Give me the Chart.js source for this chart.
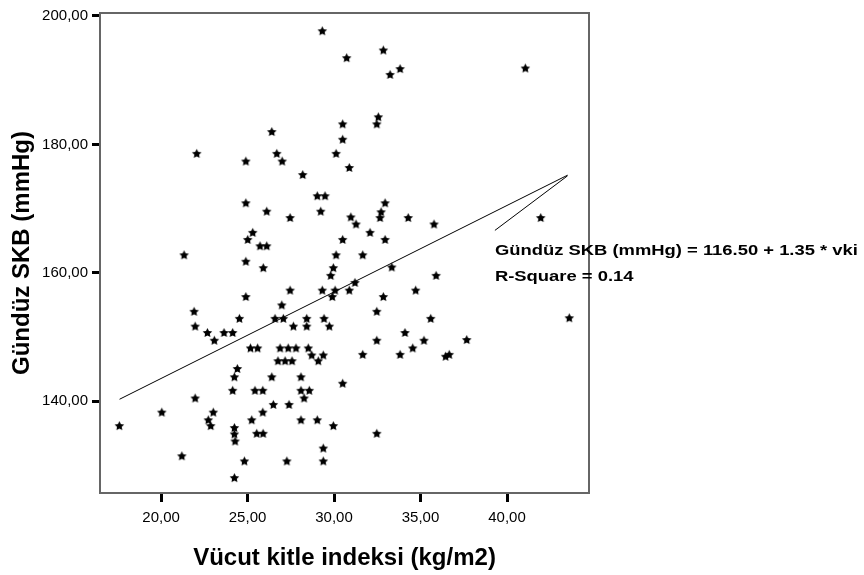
<!DOCTYPE html>
<html lang="tr">
<head>
  <meta charset="UTF-8">
  <title>Vücut kitle indeksi - Gündüz SKB</title>
  <script src="https://cdn.jsdelivr.net/npm/chart.js"></script>
  <style>
    html, body { margin: 0; padding: 0; background: #fff; }
    #wrap { width: 864px; height: 575px; }
  </style>
</head>
<body>
  <div id="wrap"><canvas id="myChart" width="864" height="575"></canvas></div>

  <script>
    // values
    var bmi = [29.32, 30.73, 32.85, 33.24, 33.82, 41.06, 26.40, 22.06, 24.90, 26.69,
               27.00, 28.19, 32.56, 32.47, 30.50, 30.50, 30.12, 30.88, 24.90, 26.11,
               27.46, 29.03, 29.48, 29.23, 32.95, 32.72, 32.66, 30.97, 31.27, 34.29,
               35.78, 41.95, 25.30, 25.01, 25.72, 26.11, 32.08, 30.50, 32.95, 21.33,
               30.12, 31.66, 24.90, 25.91, 29.96, 29.81, 33.34, 35.90, 27.46, 24.90,
               26.98, 31.21, 29.32, 30.06, 30.88, 29.90, 32.85, 34.72, 21.91, 24.53,
               26.59, 27.07, 27.65, 21.97, 22.68, 23.08, 23.64, 24.14, 32.47, 28.42,
               29.42, 28.42, 29.73, 35.59, 34.10, 32.47, 35.20, 37.67, 34.55, 43.60,
               25.17, 25.58, 26.88, 27.35, 27.80, 26.76, 27.17, 27.57, 28.51, 28.71,
               29.38, 29.09, 31.66, 33.82, 36.66, 36.45, 24.41, 24.24, 26.40, 28.09,
               30.50, 24.14, 25.43, 25.88, 28.09, 28.57, 28.27, 21.97, 26.49, 27.40,
               20.04, 23.02, 25.88, 22.73, 22.87, 25.24, 28.09, 29.03, 29.96, 17.59,
               24.24, 24.24, 24.28, 25.53, 25.90, 32.47, 29.38, 21.20, 24.82, 27.27,
               29.38, 24.24];
    var skb = [197.7, 193.5, 194.7, 190.9, 191.8, 191.9, 182.0, 178.6, 177.4, 178.6,
               177.4, 175.3, 184.3, 183.2, 183.2, 180.8, 178.6, 176.4, 170.9, 169.6,
               168.6, 172.0, 172.0, 169.6, 170.9, 169.5, 168.6, 168.7, 167.6, 168.6,
               167.6, 168.6, 166.3, 165.2, 164.2, 164.2, 166.3, 165.2, 165.2, 162.8,
               162.8, 162.8, 161.8, 160.8, 160.8, 159.6, 160.9, 159.6, 157.3, 156.3,
               155.0, 158.5, 157.3, 157.3, 157.3, 156.3, 156.3, 157.3, 154.0, 152.9,
               152.9, 152.9, 151.7, 151.7, 150.7, 149.5, 150.7, 150.7, 154.0, 152.9,
               152.9, 151.7, 151.7, 152.9, 150.7, 149.5, 149.5, 149.6, 148.3, 153.0,
               148.3, 148.3, 148.3, 148.3, 148.3, 146.3, 146.3, 146.3, 148.3, 147.2,
               147.2, 146.3, 147.3, 147.3, 147.3, 147.0, 145.1, 143.8, 143.8, 143.8,
               142.8, 141.7, 141.7, 141.7, 141.7, 141.7, 140.5, 140.5, 139.5, 139.5,
               138.3, 138.3, 138.3, 137.1, 136.2, 137.1, 137.1, 137.1, 136.2, 136.2,
               135.9, 134.9, 133.8, 135.0, 135.0, 135.0, 132.7, 131.5, 130.7, 130.7,
               130.7, 128.1];

    // fitted line ends and the pointer from the equation to the line
    var fitX = [17.6, 43.5];
    var fitY = [140.3, 175.2];
    var pointerX = [39.3, 43.5];
    var pointerY = [166.6, 175.1];

    var xTicks = [20, 25, 30, 35, 40];
    var yTicks = [140, 160, 180, 200];

    var equationText = ['Gündüz SKB (mmHg) = 116.50 + 1.35 * vki', 'R-Square = 0.14'];

    function toXY(xs, ys) {
      return xs.map(function(x, i) { return { x: x, y: ys[i] }; });
    }

    function fmt(v) {
      return v.toFixed(2).replace('.', ',');
    }

    // filled little star like the SPSS marker
    function makeStar() {
      var c = document.createElement('canvas');
      c.width = 11; c.height = 11;
      var g = c.getContext('2d');
      g.fillStyle = '#000';
      g.beginPath();
      for (var i = 0; i < 10; i++) {
        var r = (i % 2 === 0) ? 5.0 : 2.5;
        var a = -Math.PI / 2 + i * Math.PI / 5;
        var px = 5.5 + r * Math.cos(a);
        var py = 6 + r * Math.sin(a);
        if (i === 0) g.moveTo(px, py); else g.lineTo(px, py);
      }
      g.closePath();
      g.fill();
      return c;
    }

    var boxPlugin = {
      id: 'box',
      afterDraw: function(chart) {
        var ctx = chart.ctx, a = chart.chartArea;
        ctx.save();
        ctx.strokeStyle = '#666';
        ctx.lineWidth = 2;
        ctx.strokeRect(a.left, a.top, a.right - a.left, a.bottom - a.top);

        // equation text
        var xs = chart.scales.x, ys = chart.scales.y;
        var tx = xs.getPixelForValue(39.3);
        ctx.fillStyle = '#000';
        ctx.font = 'bold 14px "Liberation Sans", Arial, sans-serif';
        ctx.textBaseline = 'middle';
        var y1 = ys.getPixelForValue(163.4);
        var y2 = ys.getPixelForValue(159.3);
        var w = ctx.measureText(equationText[0]).width;
        var sx = 363 / w;
        ctx.save();
        ctx.translate(tx, y1);
        ctx.scale(sx, 1);
        ctx.fillText(equationText[0], 0, 0);
        ctx.restore();
        ctx.save();
        ctx.translate(tx, y2);
        ctx.scale(sx, 1);
        ctx.fillText(equationText[1], 0, 0);
        ctx.restore();
        ctx.restore();
      }
    };

    var star = makeStar();

    var ctx = document.getElementById('myChart').getContext('2d');
    var chart = new Chart(ctx, {
      type: 'scatter',
      data: {
        datasets: [
          {
            label: 'Gündüz SKB',
            data: toXY(bmi, skb),
            pointStyle: star,
            pointRadius: 5,
            backgroundColor: '#000',
            borderColor: '#000'
          },
          {
            label: 'fit',
            data: toXY(fitX, fitY),
            showLine: true,
            borderColor: '#000',
            borderWidth: 1,
            pointRadius: 0,
            fill: false
          },
          {
            label: 'pointer',
            data: toXY(pointerX, pointerY),
            showLine: true,
            borderColor: '#000',
            borderWidth: 1,
            pointRadius: 0,
            fill: false
          }
        ]
      },
      options: {
        responsive: false,
        animation: false,
        events: [],
        layout: { padding: { left: 0, right: 275, top: 7, bottom: 0 } },
        plugins: {
          legend: { display: false },
          tooltip: { enabled: false }
        },
        scales: {
          x: {
            type: 'linear',
            min: 16.47,
            max: 44.74,
            afterBuildTicks: function(s) { s.ticks = xTicks.map(function(v) { return { value: v }; }); },
            afterFit: function(s) { s.height = 82; },
            grid: { drawOnChartArea: false, drawTicks: true, tickLength: 9, tickWidth: 3, tickColor: '#000' },
            border: { display: false },
            ticks: {
              color: '#000',
              padding: 7,
              maxRotation: 0,
              font: { family: '"Liberation Sans", Arial, sans-serif', size: 15 },
              callback: function(v) { return fmt(v); }
            },
            title: {
              display: true,
              text: 'Vücut kitle indeksi (kg/m2)',
              color: '#000',
              padding: { top: 0, bottom: 2 },
              font: { family: '"Liberation Sans", Arial, sans-serif', size: 24, weight: 'bold' }
            }
          },
          y: {
            type: 'linear',
            min: 125.7,
            max: 200.46,
            afterBuildTicks: function(s) { s.ticks = yTicks.map(function(v) { return { value: v }; }); },
            afterFit: function(s) { s.width = 100; },
            grid: { drawOnChartArea: false, drawTicks: true, tickLength: 8, tickWidth: 3, tickColor: '#000' },
            border: { display: false },
            ticks: {
              color: '#000',
              padding: 4,
              font: { family: '"Liberation Sans", Arial, sans-serif', size: 15 },
              callback: function(v) { return fmt(v); }
            },
            title: {
              display: true,
              text: 'Gündüz SKB (mmHg)',
              color: '#000',
              padding: { top: 8, bottom: 0 },
              font: { family: '"Liberation Sans", Arial, sans-serif', size: 24, weight: 'bold' }
            }
          }
        }
      },
      plugins: [boxPlugin]
    });
  </script>
</body>
</html>
